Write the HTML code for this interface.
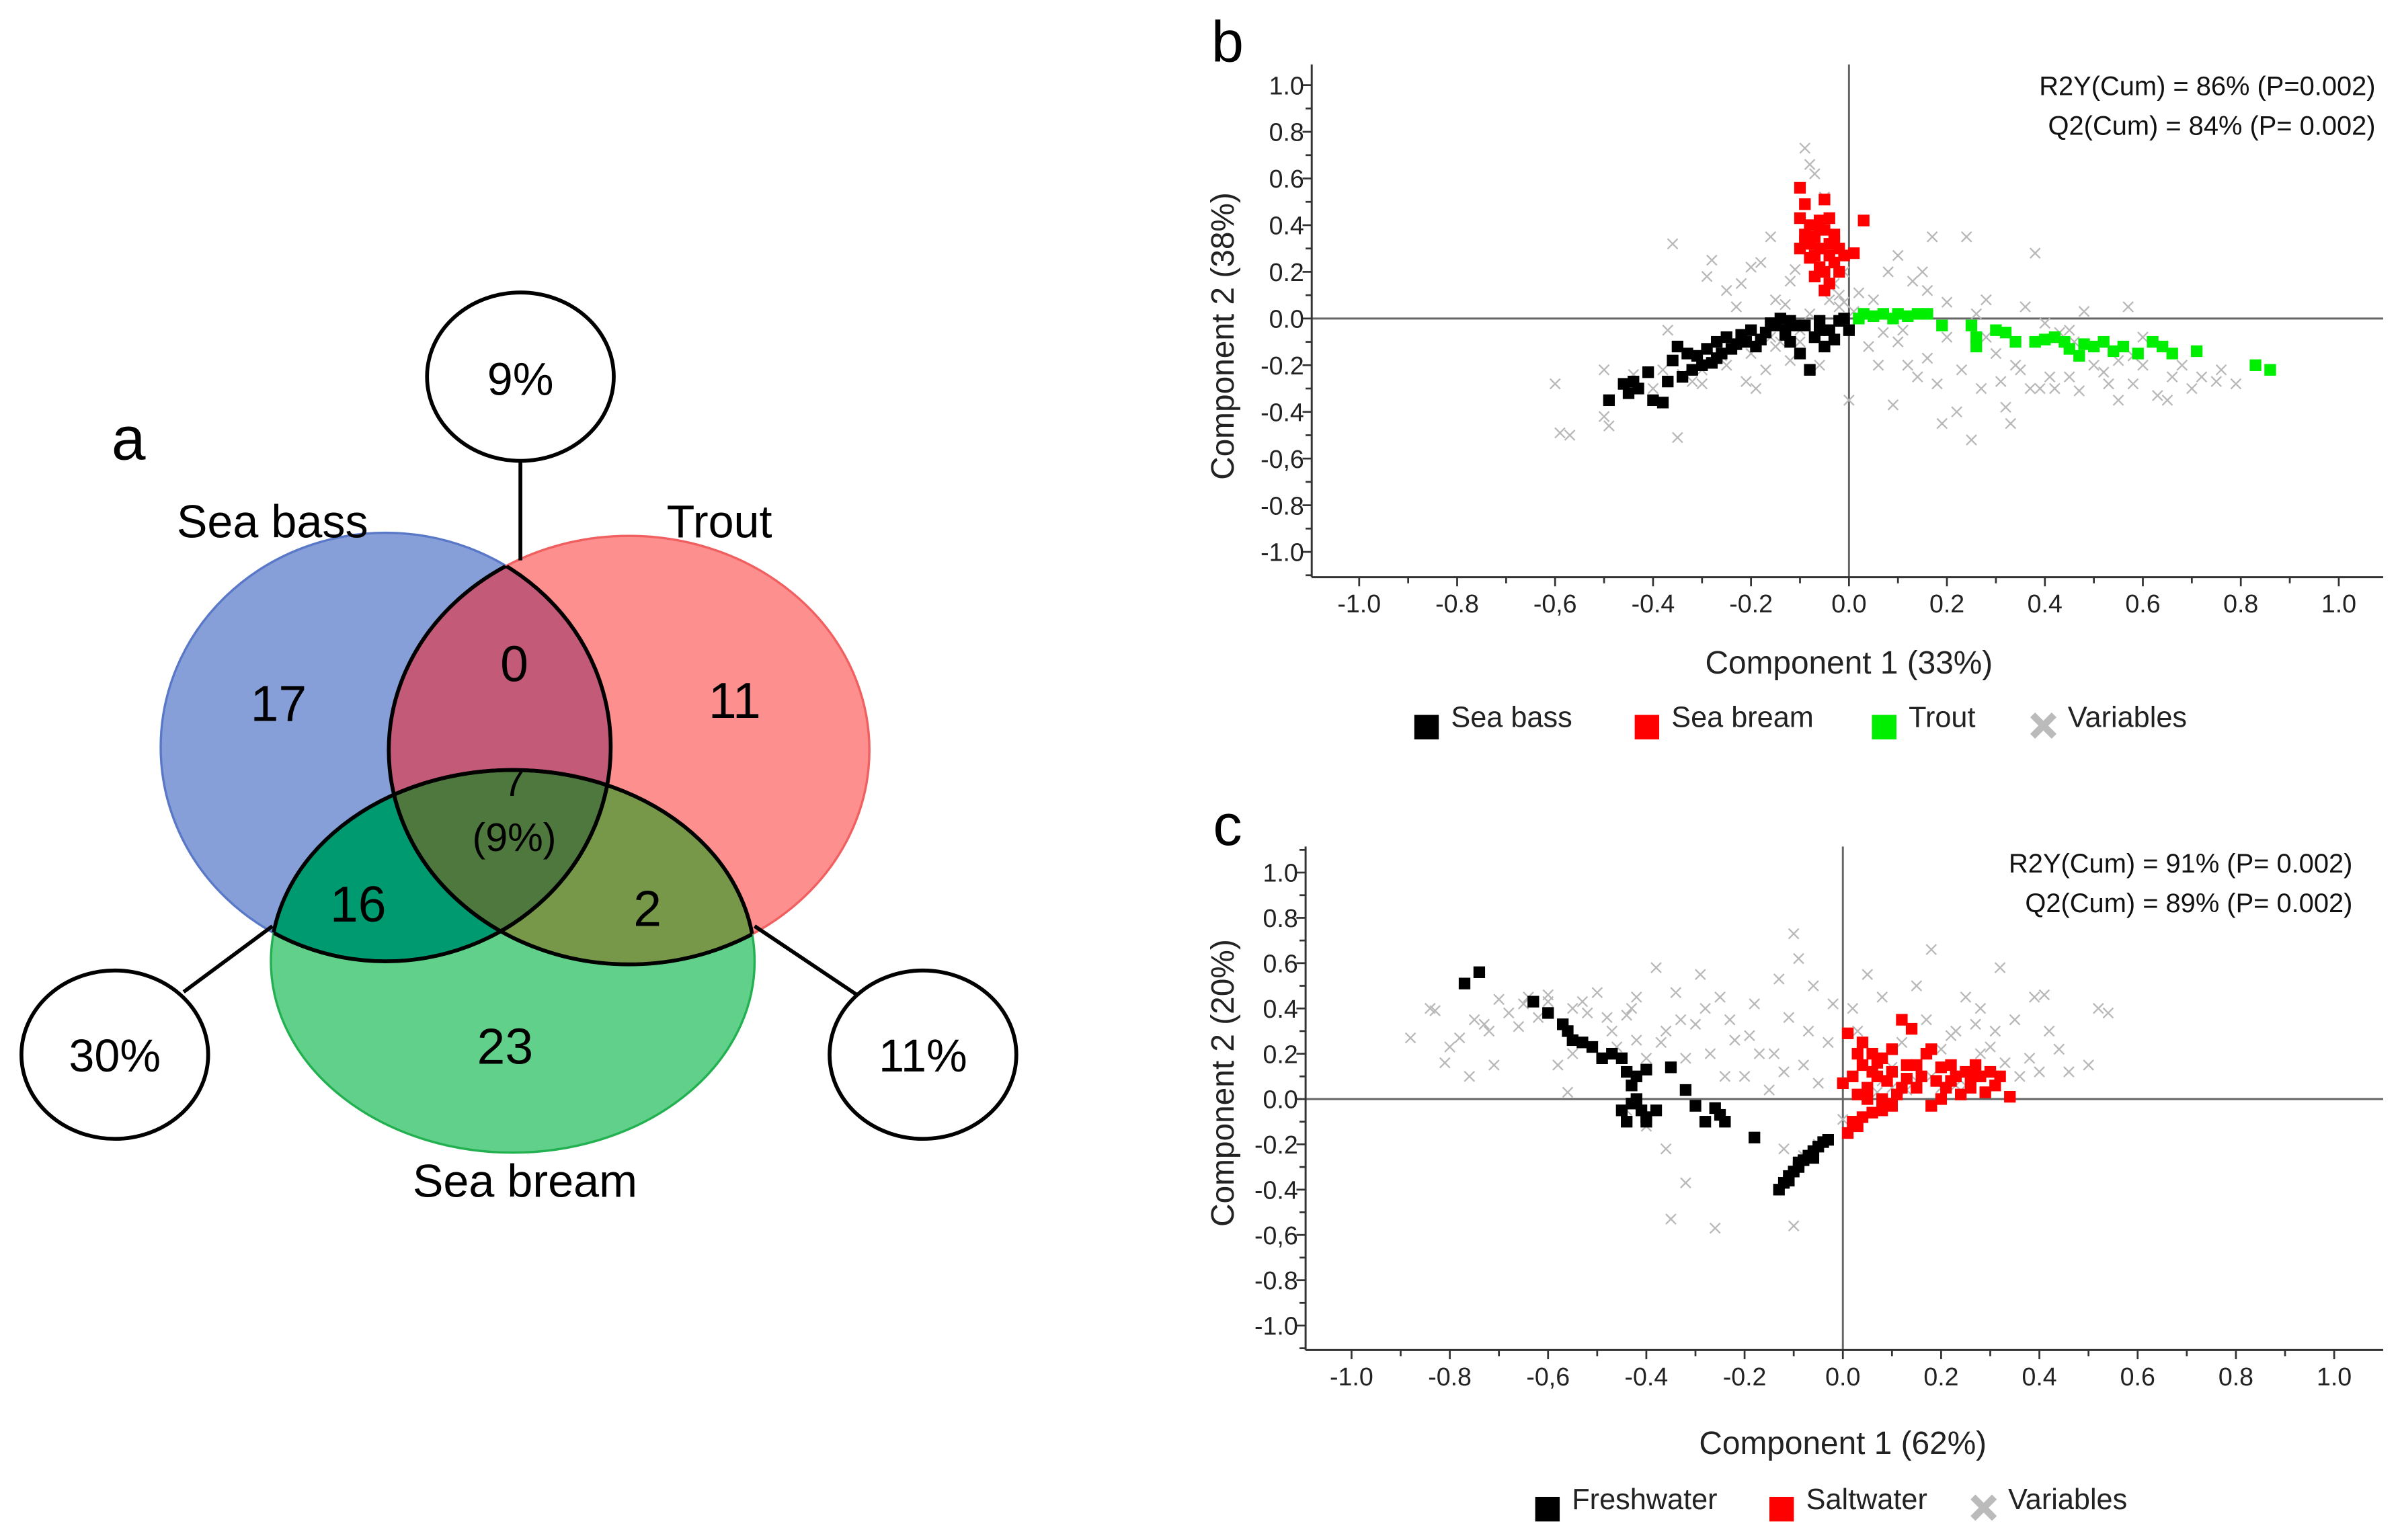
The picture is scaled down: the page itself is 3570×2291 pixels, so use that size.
<!DOCTYPE html>
<html><head><meta charset="utf-8"><style>
html,body{margin:0;padding:0;background:#fff;}
svg{display:block;font-family:"Liberation Sans",sans-serif;}
</style></head><body>
<svg id="fig" width="3570" height="2291" viewBox="0 0 1568 1006" xmlns="http://www.w3.org/2000/svg">
<defs>
<clipPath id="clipBlue"><ellipse cx="252" cy="488" rx="147" ry="140"/></clipPath>
<clipPath id="clipRed"><ellipse cx="411" cy="490" rx="157" ry="140"/></clipPath>
<clipPath id="clipGreen"><ellipse cx="335" cy="628" rx="158" ry="125"/></clipPath>
</defs>
<g>
<text x="84" y="300" font-size="40" text-anchor="middle">a</text>
<ellipse cx="252" cy="488" rx="147" ry="140" fill="#879fd8" stroke="#5a78c8" stroke-width="1.5"/>
<ellipse cx="411" cy="490" rx="157" ry="140" fill="#fe8f8f" stroke="#f06060" stroke-width="1.5"/>
<ellipse cx="335" cy="628" rx="158" ry="125" fill="#61d08a" stroke="#22b050" stroke-width="1.5"/>
<g clip-path="url(#clipBlue)"><ellipse cx="411" cy="490" rx="157" ry="140" fill="#c35b78"/></g>
<g clip-path="url(#clipBlue)"><ellipse cx="335" cy="628" rx="158" ry="125" fill="#009a70"/></g>
<g clip-path="url(#clipRed)"><ellipse cx="335" cy="628" rx="158" ry="125" fill="#779848"/></g>
<g clip-path="url(#clipBlue)"><g clip-path="url(#clipRed)"><ellipse cx="335" cy="628" rx="158" ry="125" fill="#4e783e"/></g></g>
<g fill="none" stroke="#000" stroke-width="2.5">
<g clip-path="url(#clipRed)"><ellipse cx="252" cy="488" rx="147" ry="140"/></g>
<g clip-path="url(#clipGreen)"><ellipse cx="252" cy="488" rx="147" ry="140"/></g>
<g clip-path="url(#clipBlue)"><ellipse cx="411" cy="490" rx="157" ry="140"/></g>
<g clip-path="url(#clipGreen)"><ellipse cx="411" cy="490" rx="157" ry="140"/></g>
<g clip-path="url(#clipBlue)"><ellipse cx="335" cy="628" rx="158" ry="125"/></g>
<g clip-path="url(#clipRed)"><ellipse cx="335" cy="628" rx="158" ry="125"/></g>
</g>
<g stroke="#000" stroke-width="2.5" fill="#fff">
<line x1="340" y1="301" x2="340" y2="366"/>
<line x1="120" y1="648" x2="178" y2="605"/>
<line x1="493" y1="605" x2="560" y2="650"/>
<ellipse cx="340" cy="246" rx="61" ry="55"/>
<ellipse cx="75" cy="689" rx="61" ry="55"/>
<ellipse cx="603" cy="689" rx="61" ry="55"/>
</g>
<g font-size="30" text-anchor="middle" fill="#000">
<text x="340" y="258">9%</text>
<text x="75" y="700">30%</text>
<text x="603" y="700">11%</text>
<text x="178" y="351">Sea bass</text>
<text x="470" y="351">Trout</text>
<text x="343" y="782">Sea bream</text>
</g>
<g font-size="33" text-anchor="middle" fill="#000">
<text x="182" y="471">17</text>
<text x="336" y="445">0</text>
<text x="480" y="469">11</text>
<text x="336" y="520" font-size="26">7</text>
<text x="336" y="556" font-size="26">(9%)</text>
<text x="234" y="602">16</text>
<text x="423" y="605">2</text>
<text x="330" y="695">23</text>
</g>
</g>
<g id="panelB"></g>
<g id="panelC"></g>
</svg>
<script>
const NS = "http://www.w3.org/2000/svg";
const xTickLabels = ["-1.0","-0.8","-0,6","-0.4","-0.2","0.0","0.2","0.4","0.6","0.8","1.0"];
const yTickLabels = ["-1.0","-0.8","-0,6","-0.4","-0.2","0.0","0.2","0.4","0.6","0.8","1.0"];
const tickValues = [-1,-0.8,-0.6,-0.4,-0.2,0,0.2,0.4,0.6,0.8,1];

const seaBass = [[-0.49,-0.35],[-0.46,-0.28],[-0.44,-0.27],[-0.43,-0.3],[-0.41,-0.23],[-0.4,-0.35],[-0.38,-0.36],[-0.37,-0.27],[-0.36,-0.18],[-0.35,-0.12],[-0.34,-0.25],[-0.33,-0.15],[-0.31,-0.16],[-0.3,-0.2],[-0.29,-0.13],[-0.28,-0.19],[-0.27,-0.1],[-0.26,-0.15],[-0.25,-0.08],[-0.23,-0.11],[-0.22,-0.07],[-0.2,-0.05],[-0.19,-0.12],[-0.17,-0.06],[-0.15,-0.03],[-0.14,0],[-0.13,-0.07],[-0.12,-0.1],[-0.11,-0.03],[-0.1,-0.15],[-0.09,-0.03],[-0.08,-0.22],[-0.07,-0.08],[-0.06,-0.01],[-0.05,-0.12],[-0.04,-0.05],[-0.03,-0.09],[-0.02,-0.01],[-0.01,0],[0,-0.05],[-0.16,-0.02],[-0.13,-0.05],[-0.21,-0.1],[-0.45,-0.32],[-0.32,-0.22],[-0.27,-0.17],[-0.24,-0.13],[-0.18,-0.09],[-0.12,-0.01],[-0.06,-0.05]];
const seaBream = [[-0.1,0.56],[-0.09,0.49],[-0.05,0.51],[-0.1,0.43],[-0.08,0.4],[-0.06,0.42],[-0.04,0.43],[0.03,0.42],[-0.1,0.3],[-0.09,0.36],[-0.07,0.35],[-0.05,0.38],[-0.03,0.33],[-0.02,0.3],[-0.08,0.26],[-0.06,0.22],[-0.04,0.27],[-0.01,0.27],[0.01,0.28],[-0.07,0.18],[-0.05,0.2],[-0.03,0.24],[-0.05,0.12],[-0.04,0.15],[-0.02,0.2],[-0.06,0.3],[-0.08,0.32],[-0.03,0.36],[-0.09,0.33],[-0.07,0.27],[-0.04,0.32],[-0.06,0.38]];
const trout = [[0.02,0.0],[0.03,0.02],[0.05,0.01],[0.07,0.02],[0.09,0.0],[0.1,0.02],[0.12,0.01],[0.14,0.02],[0.16,0.02],[0.19,-0.03],[0.25,-0.03],[0.26,-0.08],[0.26,-0.12],[0.3,-0.05],[0.32,-0.06],[0.34,-0.1],[0.38,-0.1],[0.4,-0.09],[0.42,-0.08],[0.44,-0.1],[0.45,-0.13],[0.47,-0.16],[0.48,-0.11],[0.5,-0.12],[0.52,-0.1],[0.54,-0.14],[0.56,-0.12],[0.59,-0.15],[0.62,-0.1],[0.64,-0.12],[0.66,-0.15],[0.71,-0.14],[0.83,-0.2],[0.86,-0.22]];
const variablesB = [[-0.6,-0.28],[-0.59,-0.49],[-0.57,-0.5],[-0.5,-0.42],[-0.49,-0.46],[-0.5,-0.22],[-0.37,-0.05],[-0.36,0.32],[-0.35,-0.51],[-0.34,-0.24],[-0.3,-0.28],[-0.28,0.25],[-0.26,-0.16],[-0.25,0.12],[-0.22,0.15],[-0.2,0.22],[-0.19,-0.3],[-0.18,0.24],[-0.17,-0.22],[-0.16,0.35],[-0.15,0.08],[-0.13,0.06],[-0.12,-0.18],[-0.12,0.16],[-0.11,0.21],[-0.09,0.73],[-0.08,0.66],[-0.07,0.62],[-0.06,-0.2],[-0.05,0.52],[-0.04,0.14],[-0.02,0.05],[-0.02,0.1],[-0.01,0.07],[0,-0.35],[0.01,0.03],[0.04,-0.12],[0.05,0.08],[0.06,-0.2],[0.08,0.2],[0.09,-0.37],[0.1,-0.1],[0.1,0.27],[0.12,-0.2],[0.14,-0.25],[0.15,0.2],[0.16,0.12],[0.17,0.35],[0.18,-0.28],[0.19,-0.45],[0.2,0.07],[0.22,-0.4],[0.24,0.35],[0.25,-0.52],[0.26,0.02],[0.27,-0.3],[0.28,0.08],[0.3,-0.15],[0.31,-0.27],[0.32,-0.38],[0.33,-0.45],[0.35,-0.22],[0.37,-0.3],[0.38,0.28],[0.39,-0.3],[0.41,-0.25],[0.42,-0.3],[0.43,-0.06],[0.45,-0.25],[0.47,-0.31],[0.48,0.03],[0.5,-0.2],[0.53,-0.28],[0.55,-0.35],[0.57,0.05],[0.58,-0.28],[0.6,-0.2],[0.63,-0.33],[0.65,-0.35],[0.68,-0.2],[0.72,-0.25],[0.75,-0.27],[0.79,-0.28],[-0.44,-0.24],[-0.4,-0.3],[-0.32,-0.27],[-0.25,-0.2],[-0.2,-0.15],[-0.14,-0.1],[-0.1,-0.05],[-0.06,-0.04],[-0.03,0.15],[-0.01,0.2],[0.11,-0.05],[0.2,-0.08],[0.3,-0.05],[0.45,-0.05],[0.58,-0.16],[-0.29,0.18],[-0.23,0.05],[-0.21,-0.27],[-0.15,-0.12],[-0.1,-0.1],[-0.04,0.08],[0.02,0.11],[0.07,-0.06],[0.13,0.16],[0.16,-0.17],[0.23,-0.22],[0.28,-0.08],[0.34,-0.2],[0.36,0.05],[0.4,-0.02],[0.46,-0.1],[0.52,-0.23],[0.55,-0.18],[0.6,-0.08],[0.66,-0.25],[0.7,-0.3],[0.76,-0.22],[-0.38,-0.22],[-0.3,-0.22],[-0.16,-0.08],[-0.08,0.02]];

const freshwater = [[-0.77,0.51],[-0.74,0.56],[-0.63,0.43],[-0.6,0.38],[-0.57,0.33],[-0.56,0.3],[-0.55,0.26],[-0.53,0.25],[-0.51,0.23],[-0.49,0.18],[-0.47,0.2],[-0.45,0.18],[-0.44,0.12],[-0.43,0.06],[-0.42,0.1],[-0.4,0.13],[-0.35,0.14],[-0.43,-0.02],[-0.42,0.0],[-0.41,-0.05],[-0.45,-0.05],[-0.44,-0.1],[-0.4,-0.08],[-0.38,-0.05],[-0.4,-0.1],[-0.32,0.04],[-0.3,-0.03],[-0.28,-0.1],[-0.26,-0.04],[-0.25,-0.07],[-0.24,-0.1],[-0.18,-0.17],[-0.13,-0.4],[-0.12,-0.37],[-0.11,-0.34],[-0.1,-0.32],[-0.09,-0.3],[-0.08,-0.27],[-0.07,-0.25],[-0.06,-0.23],[-0.05,-0.21],[-0.04,-0.19],[-0.03,-0.18],[-0.11,-0.36],[-0.09,-0.28],[-0.06,-0.26]];
const saltwater = [[0.01,-0.15],[0.02,-0.1],[0.03,-0.12],[0.04,-0.08],[0.06,-0.06],[0.08,-0.05],[0.1,-0.03],[0.0,0.07],[0.01,0.29],[0.02,0.1],[0.03,0.2],[0.04,0.15],[0.05,0.05],[0.06,0.2],[0.07,0.1],[0.08,0.18],[0.09,0.08],[0.1,0.12],[0.11,0.02],[0.12,0.35],[0.13,0.15],[0.14,0.31],[0.15,0.05],[0.16,0.1],[0.17,0.2],[0.18,0.22],[0.19,0.08],[0.2,0.0],[0.21,0.05],[0.22,0.15],[0.23,0.1],[0.24,0.02],[0.25,0.12],[0.26,0.05],[0.27,0.15],[0.28,0.1],[0.29,0.03],[0.3,0.12],[0.31,0.06],[0.32,0.1],[0.34,0.01],[0.05,0.0],[0.12,0.05],[0.18,-0.03],[0.03,0.02],[0.1,0.22],[0.06,0.12],[0.15,0.15],[0.22,0.08],[0.09,-0.02],[0.04,0.25],[0.08,0.0],[0.13,0.09],[0.2,0.14],[0.26,0.1],[0.07,0.16]];
const variablesC = [[-0.88,0.27],[-0.84,0.4],[-0.83,0.39],[-0.81,0.16],[-0.8,0.23],[-0.78,0.27],[-0.76,0.1],[-0.75,0.35],[-0.73,0.33],[-0.71,0.15],[-0.7,0.44],[-0.68,0.38],[-0.66,0.32],[-0.64,0.45],[-0.62,0.36],[-0.6,0.46],[-0.58,0.15],[-0.56,0.03],[-0.55,0.4],[-0.53,0.43],[-0.5,0.47],[-0.48,0.36],[-0.46,0.23],[-0.44,0.37],[-0.42,0.26],[-0.4,0.18],[-0.38,0.58],[-0.36,0.3],[-0.34,0.47],[-0.32,0.18],[-0.3,0.33],[-0.29,0.55],[-0.27,0.2],[-0.25,0.45],[-0.24,0.1],[-0.22,0.26],[-0.2,0.1],[-0.18,0.42],[-0.17,0.2],[-0.15,0.04],[-0.13,0.53],[-0.11,0.36],[-0.1,0.73],[-0.09,0.62],[-0.08,0.15],[-0.06,0.5],[-0.05,0.07],[-0.02,0.42],[0.0,-0.09],[0.02,0.4],[0.05,0.55],[0.08,0.45],[0.1,0.14],[0.15,0.5],[0.18,0.66],[0.2,0.22],[0.23,0.3],[0.25,0.45],[0.27,0.33],[0.28,0.4],[0.3,0.23],[0.32,0.58],[0.33,0.16],[0.35,0.35],[0.36,0.1],[0.39,0.45],[0.41,0.46],[0.42,0.3],[0.44,0.22],[0.46,0.12],[0.5,0.15],[0.52,0.4],[0.54,0.38],[-0.36,-0.22],[-0.32,-0.37],[-0.35,-0.53],[-0.26,-0.57],[-0.1,-0.56],[-0.12,-0.22],[-0.4,-0.12],[-0.44,-0.05],[-0.6,0.43],[0.05,0.05],[0.1,0.05],[0.15,0.08],[0.2,0.05],[0.25,0.06],[0.07,0.03],[-0.08,-0.25],[-0.05,-0.2],[-0.65,0.42],[-0.52,0.38],[-0.47,0.3],[-0.43,0.4],[-0.37,0.25],[-0.33,0.35],[-0.28,0.4],[-0.23,0.35],[-0.19,0.28],[-0.14,0.2],[-0.12,0.12],[-0.07,0.3],[-0.03,0.25],[0.03,0.3],[0.12,0.25],[0.17,0.35],[0.22,0.28],[0.28,0.2],[0.31,0.3],[0.38,0.18],[0.4,0.12],[0.13,0.04],[0.18,0.1],[0.23,0.06],[0.08,0.08],[-0.42,0.45],[-0.55,0.2],[-0.72,0.3]];

function el(parent, tag, attrs) {
  const e = document.createElementNS(NS, tag);
  for (const k in attrs) e.setAttribute(k, attrs[k]);
  parent.appendChild(e);
  return e;
}

function drawPanel(g, cfg) {
  const sx = v => cfg.x0 + v * cfg.ux;
  const sy = v => cfg.y0 - v * cfg.uy;
  const L = cfg.left, R = cfg.right, T = cfg.top, B = cfg.bottom;
  const lab = el(g, 'text', {x: cfg.letterX, y: cfg.letterY, 'font-size': 38, 'text-anchor': 'middle'});
  
  
  lab.textContent = cfg.letter;
  const zv = el(g, 'line', {x1: sx(0), y1: T, x2: sx(0), y2: B, stroke: '#666', 'stroke-width': 1.3});
  
  
  const zh = el(g, 'line', {x1: L, y1: sy(0), x2: R, y2: sy(0), stroke: '#666', 'stroke-width': 1.3});
  
  
  const ya = el(g, 'line', {x1: L, y1: T, x2: L, y2: B, stroke: '#333', 'stroke-width': 1.3});
  
  
  const xa = el(g, 'line', {x1: L, y1: B, x2: R, y2: B, stroke: '#333', 'stroke-width': 1.3});
  
  
  for (let i = -11; i <= 11; i++) {
    const v = i / 10;
    const px = sx(v), py = sy(v);
    const major = (i % 2 === 0);
    if (px >= L && px <= R) el(g, 'line', {x1: px, y1: B, x2: px, y2: B + (major ? 6 : 4), stroke: '#333', 'stroke-width': 1.2});
    if (py >= T && py <= B) el(g, 'line', {x1: L, y1: py, x2: L - (major ? 6 : 4), y2: py, stroke: '#333', 'stroke-width': 1.2});
  }
  tickValues.forEach((v, i) => {
    const t = el(g, 'text', {x: sx(v), y: B + 23, 'font-size': 16.5, 'text-anchor': 'middle', fill: '#222'});
    
    
    t.textContent = xTickLabels[i];
    const u = el(g, 'text', {x: L - 5, y: sy(v) + 6, 'font-size': 16.5, 'text-anchor': 'end', fill: '#222'});
    
    
    u.textContent = yTickLabels[i];
  });
  const xt = el(g, 'text', {x: cfg.x0, y: cfg.xTitleY, 'font-size': 21, 'text-anchor': 'middle', fill: '#222'});
  
  
  xt.textContent = cfg.xTitle;
  const ytY = (T + B) / 2 + cfg.yTitleShift;
  const yt = el(g, 'text', {x: cfg.yTitleX, y: ytY, 'font-size': 21, 'text-anchor': 'middle', fill: '#222', transform: 'rotate(-90 ' + cfg.yTitleX + ' ' + ytY + ')'});
  
  
  yt.textContent = cfg.yTitle;
  cfg.stats.forEach((s, i) => {
    const t = el(g, 'text', {x: cfg.statX, y: cfg.statY + i * 26, 'font-size': 17.5, 'text-anchor': 'end', fill: '#111'});
    
    
    t.textContent = s;
  });
  cfg.vars.forEach(p => {
    const x = sx(p[0]), y = sy(p[1]), r = 3.3;
    const m = el(g, 'path', {d: `M${x-r},${y-r}L${x+r},${y+r}M${x-r},${y+r}L${x+r},${y-r}`, stroke: '#b8b8b8', 'stroke-width': 1, fill: 'none'});
    
    
  });
  cfg.series.forEach(s => {
    s.data.forEach(p => {
      const r = el(g, 'rect', {x: sx(p[0]) - 3.8, y: sy(p[1]) - 3.8, width: 7.6, height: 7.6, fill: s.color});
      
      
    });
  });
  cfg.legend.forEach(item => {
    if (item.cross) {
      const x = item.x, y = cfg.legendY, r = 7;
      const m = el(g, 'path', {d: `M${x-r},${y-r}L${x+r},${y+r}M${x-r},${y+r}L${x+r},${y-r}`, stroke: '#bbb', 'stroke-width': 4.5, fill: 'none'});
      
      
    } else {
      const r = el(g, 'rect', {x: item.x - 8, y: cfg.legendY - 7, width: 16, height: 16, fill: item.color});
      
      
    }
    const t = el(g, 'text', {x: item.x + 16, y: cfg.legendY + 1, 'font-size': 19, fill: '#222'});
    
    
    t.textContent = item.label;
  });
}

drawPanel(document.getElementById('panelB'), {
  letter: 'b', letterX: 802, letterY: 40,
  x0: 1208, ux: 320, y0: 208, uy: 152.5,
  left: 857, right: 1557, top: 42, bottom: 377,
  xTitle: 'Component 1 (33%)', xTitleY: 440,
  yTitle: 'Component 2 (38%)', yTitleX: 806, yTitleShift: 10,
  stats: ['R2Y(Cum) = 86% (P=0.002)', 'Q2(Cum) = 84% (P= 0.002)'], statX: 1552, statY: 62,
  vars: variablesB,
  series: [{name: 'sea-bass', color: '#000', data: seaBass}, {name: 'sea-bream', color: '#f00', data: seaBream}, {name: 'trout', color: '#0e0', data: trout}],
  legendY: 474,
  legend: [{x: 932, color: '#000', label: 'Sea bass'}, {x: 1076, color: '#f00', label: 'Sea bream'}, {x: 1231, color: '#0e0', label: 'Trout'}, {x: 1335, cross: true, label: 'Variables'}]
});
drawPanel(document.getElementById('panelC'), {
  letter: 'c', letterX: 802, letterY: 552,
  x0: 1204, ux: 321, y0: 718, uy: 148,
  left: 853, right: 1557, top: 553, bottom: 882,
  xTitle: 'Component 1 (62%)', xTitleY: 950,
  yTitle: 'Component 2 (20%)', yTitleX: 806, yTitleShift: -10,
  stats: ['R2Y(Cum) = 91% (P= 0.002)', 'Q2(Cum) = 89% (P= 0.002)'], statX: 1537, statY: 570,
  vars: variablesC,
  series: [{name: 'freshwater', color: '#000', data: freshwater}, {name: 'saltwater', color: '#f00', data: saltwater}],
  legendY: 985,
  legend: [{x: 1011, color: '#000', label: 'Freshwater'}, {x: 1164, color: '#f00', label: 'Saltwater'}, {x: 1296, cross: true, label: 'Variables'}]
});
</script>
</body></html>
